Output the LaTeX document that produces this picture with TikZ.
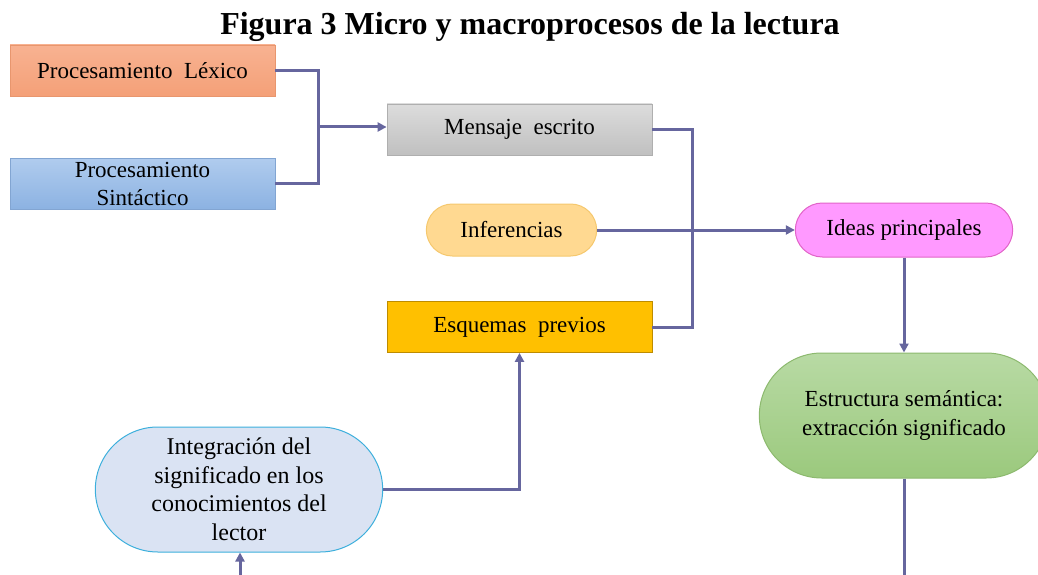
\documentclass[tikz,border=0pt]{standalone}
\usepackage{fontspec}
\setmainfont{Liberation Serif}
\usetikzlibrary{arrows.meta,shapes.misc}
\definecolor{lnc}{RGB}{102,102,158}
\definecolor{lexD}{RGB}{232,150,110}
\definecolor{lexT}{RGB}{248,178,145}
\definecolor{lexB}{RGB}{244,160,120}
\definecolor{sinD}{RGB}{130,165,210}
\definecolor{sinT}{RGB}{176,204,238}
\definecolor{sinB}{RGB}{140,178,226}
\definecolor{menD}{RGB}{175,175,175}
\definecolor{menT}{RGB}{220,220,220}
\definecolor{menB}{RGB}{192,192,192}
\definecolor{infD}{RGB}{245,200,110}
\definecolor{infF}{RGB}{255,217,145}
\definecolor{ideD}{RGB}{225,100,200}
\definecolor{ideF}{RGB}{255,153,255}
\definecolor{esqD}{RGB}{190,140,0}
\definecolor{esqF}{RGB}{255,192,0}
\definecolor{estD}{RGB}{140,185,110}
\definecolor{estT}{RGB}{184,218,164}
\definecolor{estB}{RGB}{155,201,125}
\definecolor{intD}{RGB}{60,175,220}
\definecolor{intF}{RGB}{218,227,243}
\tikzset{
  box/.style={draw=#1, line width=0.8pt, minimum width=265pt, minimum height=51pt, align=center, font=\fontsize{23}{28}\selectfont, inner sep=2pt},
  pill/.style={rounded rectangle, draw=#1, line width=1pt, align=center, font=\fontsize{23}{28.5}\selectfont},
  conn/.style={draw=lnc, line width=3pt},
  arr/.style={conn, -{Triangle[length=9pt,width=9pt]}},
}
\begin{document}
\begin{tikzpicture}[x=1pt,y=-1pt]
\useasboundingbox (0,0) rectangle (1038,575);
\clip (0,0) rectangle (1038,575);
\node[font=\bfseries\fontsize{32}{34}\selectfont] (title) at (530,27) {Figura 3 Micro y macroprocesos de la lectura};
\node[box=lexD, top color=lexT, bottom color=lexB] (lex) at (142.5,70.5) {Procesamiento~ Léxico};
\node[box=sinD, top color=sinT, bottom color=sinB] (sin) at (142.5,183.5) {Procesamiento\\Sintáctico};
\node[box=menD, top color=menT, bottom color=menB] (men) at (519.5,129.5) {Mensaje~ escrito};
\node[pill=infD, fill=infF, minimum width=177pt, minimum height=52pt] (inf) at (511.5,230) {Inferencias};
\node[pill=ideD, fill=ideF, minimum width=224pt, minimum height=54pt] (ide) at (904,230) {Ideas principales};
\node[box=esqD, fill=esqF] (esq) at (519.5,327) {Esquemas~ previos};
\node[pill=estD, top color=estT, bottom color=estB, minimum width=296pt, minimum height=125pt] (est) at (904,415.5) {Estructura semántica:\\extracción significado};
\node[pill=intD, fill=intF, minimum width=294pt, minimum height=125pt, font=\fontsize{24}{28.5}\selectfont] (int) at (239,489.5) {Integración del\\significado en los\\conocimientos del\\lector};
\coordinate (jn) at (318,127);
\coordinate (botA) at (240,580);
\coordinate (botB) at (904,580);
\draw[conn] (lex.east) -| (jn) |- (sin.east);
\draw[arr] (jn) -- (men.west |- jn);
\draw[conn] (men.east) -- ++(40,0) |- (esq.east);
\draw[arr] (inf.east) -- (ide.west);
\draw[arr] (ide.south) -- (est.north);
\draw[arr] (int.east) -| (esq.south);
\draw[arr] (botA) -- (int.south -| botA);
\draw[conn] (est.south) -- (botB);
\end{tikzpicture}
\end{document}
